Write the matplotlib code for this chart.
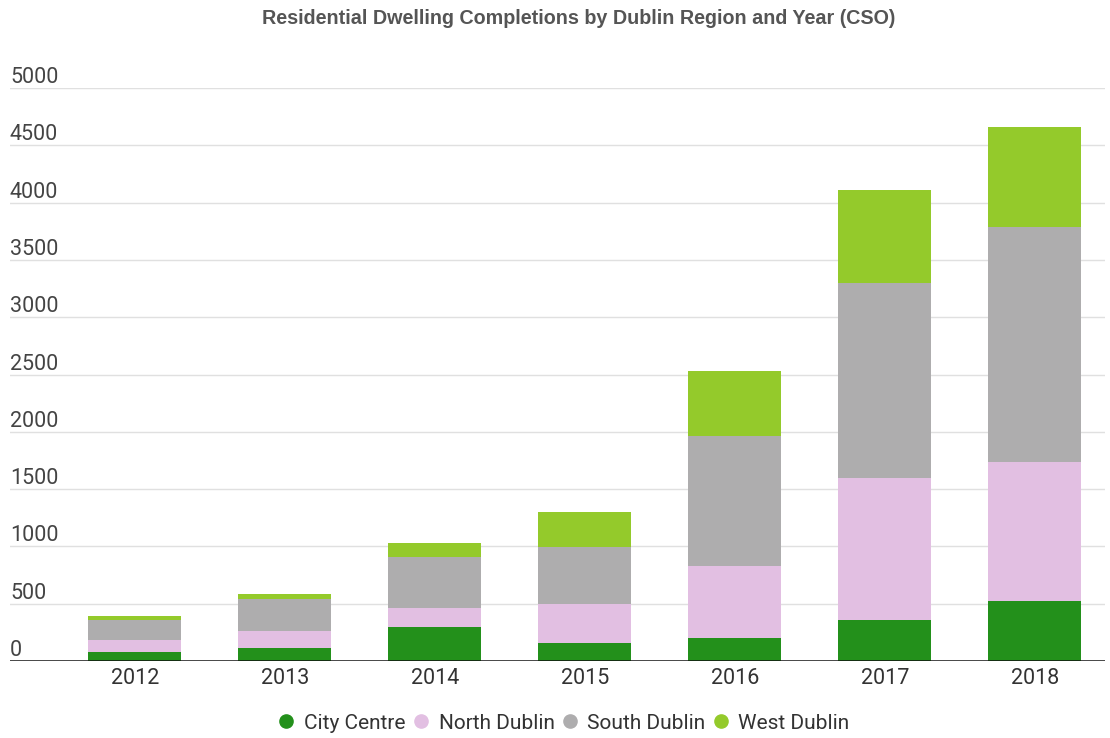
import matplotlib
matplotlib.use("Agg")
import matplotlib.pyplot as plt
from matplotlib.lines import Line2D
import matplotlib.transforms as mtransforms

years = ["2012", "2013", "2014", "2015", "2016", "2017", "2018"]
city_centre = [80, 113, 294, 154, 198, 358, 526]
north_dublin = [106, 146, 171, 341, 634, 1239, 1213]
south_dublin = [170, 282, 445, 502, 1131, 1704, 2046]
west_dublin = [35, 41, 122, 301, 570, 806, 872]
y_ticks = [0, 500, 1000, 1500, 2000, 2500, 3000, 3500, 4000, 4500, 5000]

series = [
    ("City Centre", city_centre, "#23901B"),
    ("North Dublin", north_dublin, "#E2BFE2"),
    ("South Dublin", south_dublin, "#AEADAE"),
    ("West Dublin", west_dublin, "#94CA2B"),
]

fig = plt.figure(figsize=(11.10, 7.38), dpi=100)
ax = fig.add_axes([10 / 1110, 77 / 738, 1095 / 1110, 573 / 738])

x = list(range(len(years)))
bottom = [0] * len(years)
for name, vals, col in series:
    ax.bar(x, vals, bottom=bottom, width=0.62, color=col, zorder=3, linewidth=0)
    bottom = [b + v for b, v in zip(bottom, vals)]

ax.set_xlim(-0.8333, 6.4667)
ax.set_ylim(0, 5000)
for s in ax.spines.values():
    s.set_visible(False)
ax.set_yticks([])
for t in y_ticks[1:]:
    ax.axhline(t, color="#e0e0e0", linewidth=1.0, zorder=1)
ax.axhline(0, color="#111111", linewidth=1.8, zorder=4)

trans = mtransforms.blended_transform_factory(ax.transAxes, ax.transData)
for t in y_ticks:
    ax.text(0.0, t, str(t), transform=trans, ha="left", va="bottom",
            fontsize=15.5, color="#444444", family="Roboto")
ax.set_xticks(x)
ax.set_xticklabels(years, fontsize=15.5, color="#333333", family="Roboto")
ax.tick_params(axis="x", length=0, pad=5)

fig.text(0.521, 0.975, "Residential Dwelling Completions by Dublin Region and Year (CSO)",
         ha="center", va="center", fontsize=14.2, fontweight="bold",
         color="#555555", family="Liberation Sans")

handles = [Line2D([0], [0], marker="o", linestyle="", markersize=9.5,
                  markerfacecolor=col, markeredgecolor=col, label=name)
           for name, vals, col in series]
leg = fig.legend(handles=handles, loc="center", bbox_to_anchor=(0.507, 0.02),
                 ncol=4, frameon=False, handletextpad=0.36, columnspacing=0.22,
                 handlelength=1.0, prop={"family": "Roboto", "size": 15})
for t in leg.get_texts():
    t.set_color("#333333")

fig.savefig("out.png", dpi=100, facecolor="white")
